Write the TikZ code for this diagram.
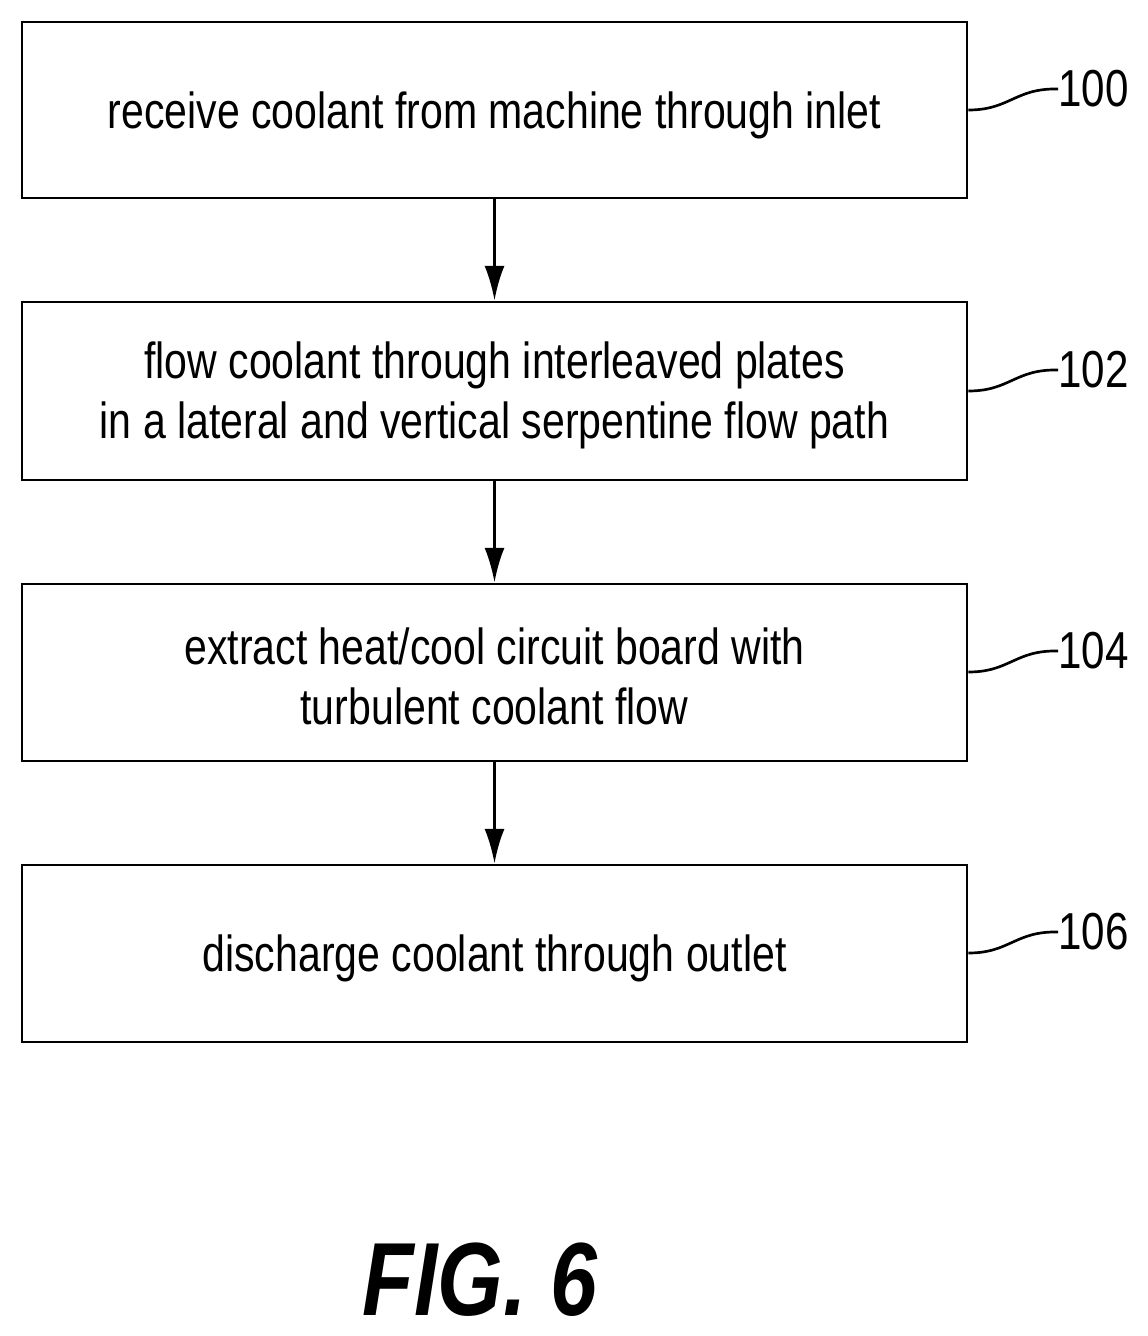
\documentclass[tikz,border=0pt]{standalone}
\usepackage{fontspec}
\setmainfont{Liberation Sans}[FakeStretch=0.81]
\begin{document}
\begin{tikzpicture}[x=0.75pt,y=-0.75pt,
  box/.style={draw,line width=2.2pt,minimum width=945*0.75pt,inner sep=0pt,align=center,font=\fontsize{38}{45}\selectfont},
  arr/.style={line width=2.2pt,-{Latex[length=26pt,width=15pt]}},
  lab/.style={font=\fontsize{39}{40}\selectfont,anchor=west,inner sep=0pt}]
\usetikzlibrary{arrows.meta}
\useasboundingbox (0,0) rectangle (1147,1336);
\node[box,minimum height=176*0.75pt] (b1) at (494.5,110) {};
\node[box,minimum height=178*0.75pt] (b2) at (494.5,391) {};
\node[box,minimum height=177*0.75pt] (b3) at (494.5,672.5) {};
\node[box,minimum height=177*0.75pt] (b4) at (494.5,953.5) {};
\node[box,draw=none] (t1) at (494.5,115) {receive coolant from machine through inlet};
\node[box,draw=none] (t2) at (494.5,395) {flow coolant through interleaved plates\\in a lateral and vertical serpentine flow path};
\node[box,draw=none] (t3) at (494.5,676) {extract heat/cool circuit board with\\turbulent coolant flow};
\node[box,draw=none] (t4) at (494.5,958) {discharge coolant through outlet};
\draw[arr] (b1) -- (b2);
\draw[arr] (b2) -- (b3);
\draw[arr] (b3) -- (b4);
\foreach \b/\n/\y in {b1/100/110, b2/102/391, b3/104/672, b4/106/953}{
  \node[lab] (l\n) at (1058,\y-21) {\n};
  \draw[line width=2pt] (b1.east|-0,\y) .. controls (1010,\y) and (1015,\y-22) .. (l\n.west);
}
\node[font=\fontsize{78}{80}\selectfont\bfseries\itshape] (fig) at (480,1280) {FIG. 6};
\end{tikzpicture}
\end{document}
